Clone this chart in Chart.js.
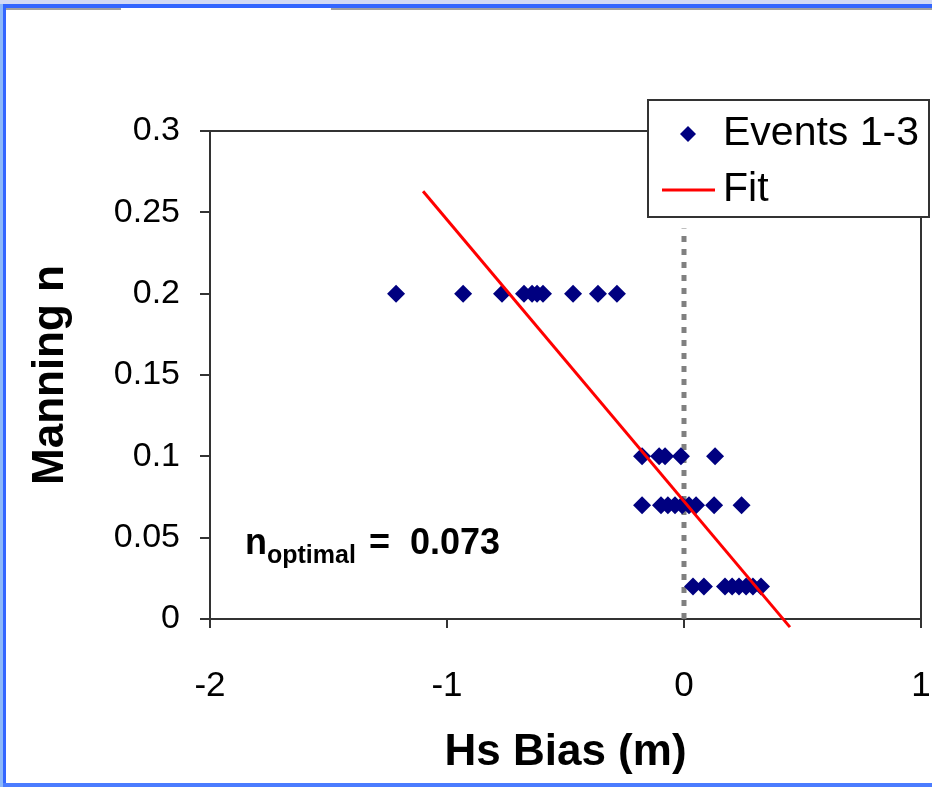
<!DOCTYPE html>
<html>
<head>
<meta charset="utf-8">
<script src="https://cdn.jsdelivr.net/npm/chart.js@4.4.1/dist/chart.umd.min.js"></script>
<style>
  html, body { margin: 0; padding: 0; background: #fff; }
  #wrap { width: 932px; height: 787px; }
</style>
</head>
<body>
<div id="wrap"><canvas id="chart" width="932" height="787"></canvas></div>
<script>
// Manning n vs Hs bias, events 1-3

const FONT = "'Liberation Sans', Arial, sans-serif";

// events, grouped by the Manning n value they were run with
const biasN020 = [-1.215, -0.932, -0.768, -0.675, -0.641, -0.620, -0.595, -0.468, -0.363, -0.283];
const biasN010 = [-0.177, -0.105, -0.080, -0.013, 0.131];
const biasN007 = [-0.177, -0.097, -0.068, -0.038, -0.008, 0.021, 0.051, 0.127, 0.243];
const biasN002 = [0.038, 0.084, 0.173, 0.203, 0.232, 0.262, 0.291, 0.325];
const nValues = [0.2, 0.1, 0.07, 0.02];

// fitted line end points
const fitX = [-1.101, 0.447];
const fitY = [0.263, -0.005];

// zero-bias reference line
const zeroX = [0, 0];
const zeroY = [0, 0.24];

const xTicks = [-2, -1, 0, 1];
const yTicks = [0, 0.05, 0.1, 0.15, 0.2, 0.25, 0.3];
const nOptimal = "0.073";

const events = [];
[biasN020, biasN010, biasN007, biasN002].forEach((row, i) => {
  row.forEach(b => events.push({ x: b, y: nValues[i] }));
});

const framePlugin = {
  id: 'frame',
  beforeDraw(chart) {
    const c = chart.ctx;
    c.save();
    c.fillStyle = '#fff';
    c.fillRect(0, 0, 932, 787);
    c.fillStyle = '#d2daf5';
    c.fillRect(0, 0, 932, 4);
    c.fillStyle = '#8cb8fa';
    c.fillRect(0, 4, 3, 783);
    c.fillStyle = '#3366ff';
    c.fillRect(3, 4, 929, 4);
    c.fillRect(3, 4, 3, 783);
    c.fillStyle = '#4b7cff';
    c.fillRect(3, 783, 929, 4);
    c.fillStyle = '#a0a0a0';
    c.fillRect(6, 8, 115, 2);
    c.fillRect(331, 8, 601, 2);
    c.restore();
  },
  beforeDatasetsDraw(chart) {
    const a = chart.chartArea, c = chart.ctx;
    c.save();
    c.strokeStyle = '#333';
    c.lineWidth = 2;
    c.beginPath();
    c.moveTo(a.left, a.top);
    c.lineTo(a.right, a.top);
    c.lineTo(a.right, a.bottom);
    c.stroke();
    c.restore();
  },
  afterDraw(chart) {
    const c = chart.ctx;
    c.save();
    // legend box
    c.fillStyle = '#fff';
    c.fillRect(648, 100, 281, 117);
    c.strokeStyle = '#333';
    c.lineWidth = 2;
    c.strokeRect(648, 100, 281, 117);
    const ds = chart.data.datasets;
    c.fillStyle = ds[0].backgroundColor;
    c.beginPath();
    c.moveTo(680, 134); c.lineTo(688, 126); c.lineTo(696, 134); c.lineTo(688, 142);
    c.closePath();
    c.fill();
    c.strokeStyle = ds[1].borderColor;
    c.lineWidth = 3;
    c.beginPath();
    c.moveTo(662, 190); c.lineTo(715, 190);
    c.stroke();
    c.fillStyle = '#000';
    c.font = '41px ' + FONT;
    c.textBaseline = 'middle';
    c.fillText(ds[0].label, 723, 134);
    c.fillText(ds[1].label, 723, 190);

    // n optimal note
    c.textBaseline = 'alphabetic';
    c.font = 'bold 36px ' + FONT;
    c.fillText('n', 245, 554);
    c.font = 'bold 25px ' + FONT;
    c.fillText('optimal', 267, 563);
    c.font = 'bold 36px ' + FONT;
    c.fillText('=', 369, 554);
    c.fillText(nOptimal, 410, 554);
    c.restore();
  }
};

new Chart(document.getElementById('chart'), {
  type: 'scatter',
  data: {
    datasets: [{
      label: 'Events 1-3',
      data: events,
      pointStyle: 'rectRot',
      pointRadius: 9,
      pointHoverRadius: 9,
      borderWidth: 0,
      backgroundColor: '#000080',
      borderColor: '#000080',
      order: 1
    }, {
      label: 'Fit',
      type: 'line',
      data: fitX.map((v, i) => ({ x: v, y: fitY[i] })),
      borderColor: '#ff0000',
      borderWidth: 3,
      pointRadius: 0,
      clip: false,
      order: 0
    }, {
      label: 'zero',
      type: 'line',
      data: zeroX.map((v, i) => ({ x: v, y: zeroY[i] })),
      borderColor: '#808080',
      borderWidth: 5,
      borderDash: [6, 7],
      pointRadius: 0,
      order: 2
    }]
  },
  options: {
    responsive: false,
    animation: false,
    layout: { padding: { top: 131, right: 11, left: 0, bottom: 0 } },
    plugins: {
      legend: { display: false },
      tooltip: { enabled: false }
    },
    scales: {
      x: {
        type: 'linear',
        min: -2, max: 1,
        afterFit: s => { s.height = 168; s.paddingLeft = 0; s.paddingRight = 0; },
        afterBuildTicks: s => { s.ticks = xTicks.map(v => ({ value: v })); },
        grid: { drawOnChartArea: false, drawTicks: true, tickLength: 9, tickColor: '#333', lineWidth: 2 },
        border: { display: true, color: '#333', width: 2 },
        ticks: { color: '#000', font: { family: FONT, size: 35 }, padding: 37, callback: v => String(v) },
        title: { display: true, text: 'Hs Bias (m)', color: '#000', font: { family: FONT, size: 44, weight: 'bold' }, padding: { top: 0, bottom: 8 } }
      },
      y: {
        type: 'linear',
        min: 0, max: 0.3,
        afterFit: s => { s.width = 210; },
        afterBuildTicks: s => { s.ticks = yTicks.map(v => ({ value: v })); },
        grid: { drawOnChartArea: false, drawTicks: true, tickLength: 10, tickColor: '#333', lineWidth: 2 },
        border: { display: true, color: '#333', width: 2 },
        ticks: { color: '#000', font: { family: FONT, size: 34 }, padding: 20, callback: v => String(+v.toFixed(2)) },
        title: { display: true, text: 'Manning n', color: '#000', font: { family: FONT, size: 44, weight: 'bold' }, padding: { top: 24, bottom: 0 } }
      }
    }
  },
  plugins: [framePlugin]
});
</script>
</body>
</html>
